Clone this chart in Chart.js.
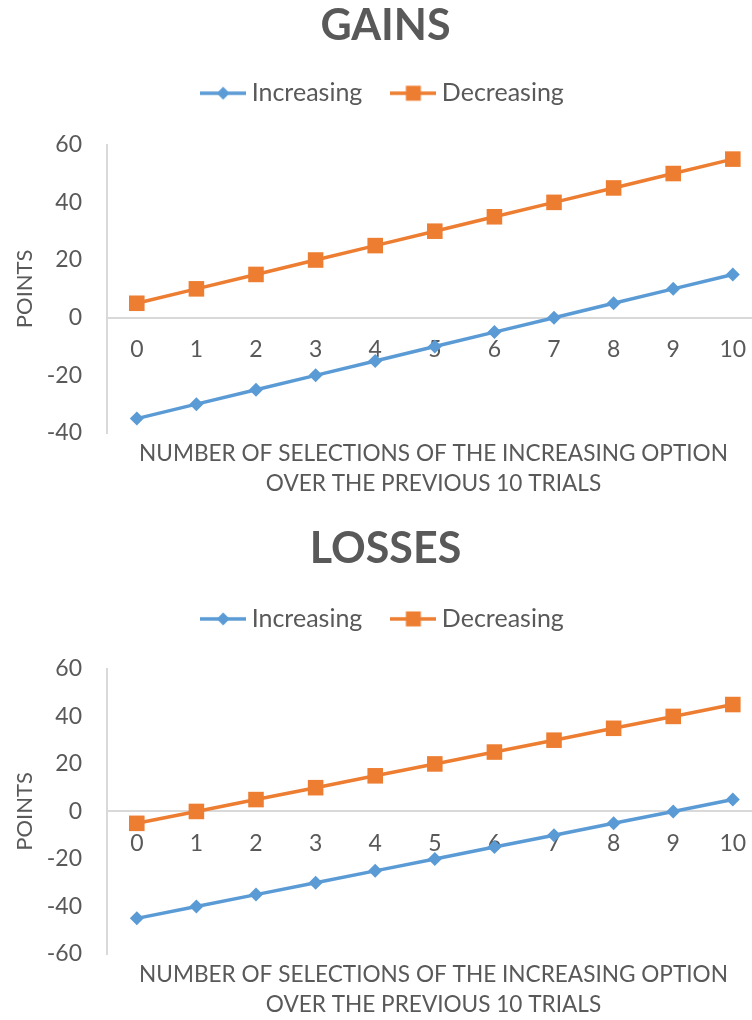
<!DOCTYPE html>
<html>
<head>
<meta charset="utf-8">
<script src="https://cdn.jsdelivr.net/npm/chart.js@4.4.1/dist/chart.umd.min.js"></script>
<style>
  html, body { margin: 0; padding: 0; background: #fff; width: 752px; height: 1020px; overflow: hidden; }
  /* the plot area runs a little past the right edge of the page */
  .panel { position: absolute; left: 0; width: 752px; overflow: hidden; }
  canvas { display: block; }
</style>
</head>
<body>
<div class="panel" style="top:0;height:503px"><canvas id="gains" width="771" height="503"></canvas></div>
<div class="panel" style="top:522px;height:498px"><canvas id="losses" width="771" height="498"></canvas></div>
<script>
// Number of selections of the increasing option (x axis)
const xLabels = [0, 1, 2, 3, 4, 5, 6, 7, 8, 9, 10];

// Gains condition
const gainsIncreasing = [-35, -30, -25, -20, -15, -10, -5, 0, 5, 10, 15];
const gainsDecreasing = [5, 10, 15, 20, 25, 30, 35, 40, 45, 50, 55];
const gainsYTicks = [-40, -20, 0, 20, 40, 60];

// Losses condition
const lossesIncreasing = [-45, -40, -35, -30, -25, -20, -15, -10, -5, 0, 5];
const lossesDecreasing = [-5, 0, 5, 10, 15, 20, 25, 30, 35, 40, 45];
const lossesYTicks = [-60, -40, -20, 0, 20, 40, 60];

const seriesNames = ['Increasing', 'Decreasing'];
const yTitle = 'POINTS';
const xTitle = ['NUMBER OF SELECTIONS OF THE INCREASING OPTION', 'OVER THE PREVIOUS 10 TRIALS'];

const BLUE = '#5B9BD5';
const ORANGE = '#ED7D31';
const TEXT = '#595959';
const AXIS = '#d9d9d9';
const FONT = 'Lato';

// Legend symbol: a short line segment with the series marker in the middle
function legendSymbol(color, pointStyle, radius) {
  const c = document.createElement('canvas');
  c.width = 46; c.height = 20;
  const g = c.getContext('2d');
  g.strokeStyle = color;
  g.lineWidth = 3.5;
  g.beginPath(); g.moveTo(0, 10); g.lineTo(46, 10); g.stroke();
  g.fillStyle = color;
  Chart.helpers.drawPoint(g, { pointStyle, radius, borderWidth: 0, rotation: 0 }, 23, 10);
  return c;
}

// Extra room between the legend and the plot area
const legendGap = {
  id: 'legendGap',
  beforeInit(chart, args, opts) {
    const fit = chart.legend.fit;
    chart.legend.fit = function () {
      fit.call(this);
      this.height += opts.gap || 0;
    };
  }
};

function makeChart(id, title, inc, dec, yTicks, L) {
  const symbols = [legendSymbol(BLUE, 'rectRot', 6.5), legendSymbol(ORANGE, 'rect', 10.6)];
  const series = (vals) => xLabels.map((x, i) => ({ x, y: vals[i] }));
  const common = { borderWidth: 3.5, pointBorderWidth: 0, tension: 0, clip: false };
  return new Chart(document.getElementById(id), {
    type: 'line',
    plugins: [legendGap],
    data: {
      datasets: [
        Object.assign({ label: seriesNames[0], data: series(inc), borderColor: BLUE, backgroundColor: BLUE,
          pointStyle: 'rectRot', pointRadius: 7, pointHoverRadius: 7 }, common),
        Object.assign({ label: seriesNames[1], data: series(dec), borderColor: ORANGE, backgroundColor: ORANGE,
          pointStyle: 'rect', pointRadius: 11, pointHoverRadius: 11 }, common)
      ]
    },
    options: {
      responsive: false,
      animation: false,
      layout: { padding: 0 },
      scales: {
        x: {
          type: 'linear',
          min: -0.5,
          max: 10.456,
          position: { y: 0 },
          afterBuildTicks: (s) => { s.ticks = xLabels.map(v => ({ value: v })); },
          afterFit: (s) => { s.height = 0; s.paddingLeft = 0; s.paddingRight = 0; },
          grid: { display: true, color: 'rgba(0,0,0,0)', drawTicks: false },
          border: { display: true, color: AXIS, width: 2 },
          ticks: { autoSkip: false, maxRotation: 0, padding: 18, color: TEXT,
            font: { family: FONT, size: 23 }, callback: (v) => String(v) }
        },
        y: {
          min: yTicks[0],
          max: yTicks[yTicks.length - 1],
          afterBuildTicks: (s) => { s.ticks = yTicks.map(v => ({ value: v })); },
          afterFit: (s) => { s.width = 107; },
          grid: { display: true, color: 'rgba(0,0,0,0)', drawTicks: false },
          border: { display: true, color: AXIS, width: 2 },
          ticks: { padding: 25, color: TEXT, font: { family: FONT, size: 23 } },
          title: { display: true, text: yTitle, color: TEXT, font: { family: FONT, size: 22 },
            padding: { top: 12, bottom: 0 } }
        }
      },
      plugins: {
        title: {
          display: true, text: title, color: TEXT,
          font: { family: FONT, size: 43, weight: 'bold', lineHeight: 0.9 },
          padding: { top: L.titleTop, bottom: L.titleGap }
        },
        legend: {
          display: true, position: 'top',
          labels: {
            usePointStyle: true, pointStyleWidth: 32, padding: 35,
            color: TEXT, font: { family: FONT, size: 25 },
            generateLabels: (chart) => chart.data.datasets.map((ds, i) => ({
              text: ds.label, pointStyle: symbols[i], fillStyle: ds.borderColor,
              strokeStyle: 'rgba(0,0,0,0)', lineWidth: 0, fontColor: TEXT,
              hidden: false, datasetIndex: i
            }))
          }
        },
        legendGap: { gap: L.legendGap },
        subtitle: {
          display: true, position: 'bottom', fullSize: false, text: xTitle, color: TEXT,
          font: { family: FONT, size: 22.6, lineHeight: 30 / 22.6 },
          padding: { top: 6, bottom: L.bottomPad }
        },
        tooltip: { enabled: false }
      }
    }
  });
}

// Layout: title centred ~27px from the panel top, legend row below it,
// plot area starting near 145px.
makeChart('gains', 'GAINS', gainsIncreasing, gainsDecreasing, gainsYTicks,
  { titleTop: 7, titleGap: 0, legendGap: 29, bottomPad: 4 });
makeChart('losses', 'LOSSES', lossesIncreasing, lossesDecreasing, lossesYTicks,
  { titleTop: 8, titleGap: 2.7, legendGap: 27.5, bottomPad: 0 });
</script>
</body>
</html>
